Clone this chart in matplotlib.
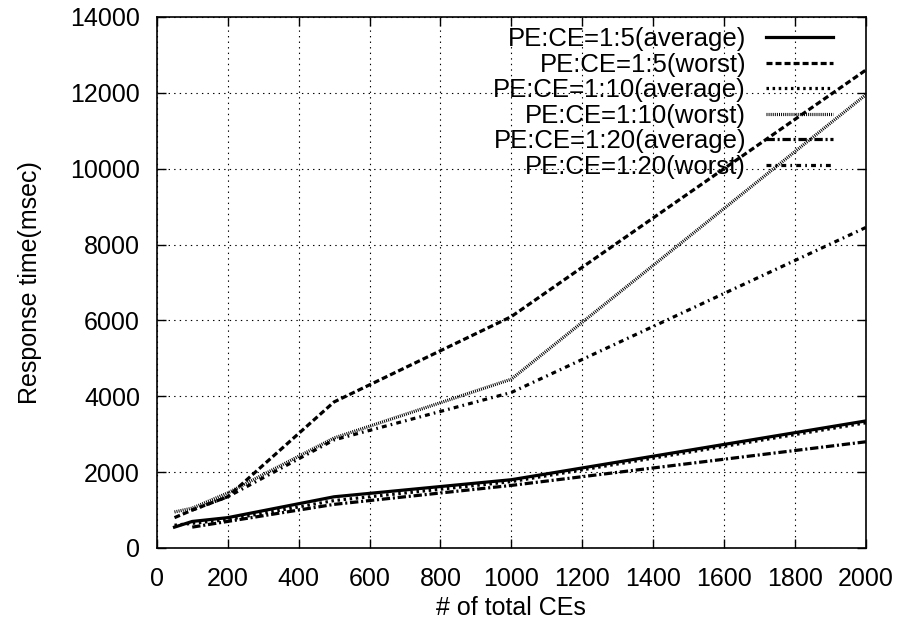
import numpy as np
import matplotlib as mpl
import matplotlib.pyplot as plt

mpl.rcParams['font.family'] = ['Liberation Sans', 'DejaVu Sans']
mpl.rcParams['lines.scale_dashes'] = False

# number of total CEs
x_all = [50, 100, 200, 500, 1000, 2000]
x_20 = [100, 200, 500, 1000, 2000]

# response times (msec)
avg_5 = [550, 700, 800, 1350, 1800, 3350]
worst_5 = [800, 1000, 1350, 3850, 6100, 12600]
avg_10 = [600, 650, 750, 1250, 1750, 3300]
worst_10 = [950, 1050, 1450, 2900, 4450, 11950]
avg_20 = [550, 700, 1150, 1650, 2800]
worst_20 = [1000, 1350, 2850, 4100, 8450]

labels = ['PE:CE=1:5(average)', 'PE:CE=1:5(worst)',
          'PE:CE=1:10(average)', 'PE:CE=1:10(worst)',
          'PE:CE=1:20(average)', 'PE:CE=1:20(worst)']

fig = plt.figure(figsize=(9.01, 6.27), dpi=100)
ax = fig.add_axes([0.174, 0.126, 0.787, 0.847])

lw = 2.3
ax.plot(x_all, avg_5, color='black', lw=lw, ls='-', label=labels[0])
ax.plot(x_all, worst_5, color='black', lw=lw, ls=(0, (4.3, 2.2)), label=labels[1])
ax.plot(x_all, avg_10, color='black', lw=lw, ls=(0, (1.8, 2.6)), label=labels[2])
ax.plot(x_all, worst_10, color='black', lw=lw, ls=(0, (0.7, 0.8)), label=labels[3])
ax.plot(x_20, avg_20, color='black', lw=lw, ls=(0, (6, 2, 1.5, 2)), label=labels[4])
ax.plot(x_20, worst_20, color='black', lw=lw, ls=(0, (3.5, 3, 1.2, 3)), label=labels[5])

ax.set_xlim(0, 2000)
ax.set_ylim(0, 14000)
ax.set_xticks(np.arange(0, 2001, 200))
ax.set_yticks(np.arange(0, 14001, 2000))
ax.tick_params(direction='in', length=6.5, width=1, top=True, right=True,
               labelsize=18, color='black')
ax.tick_params(axis='x', pad=14)
ax.tick_params(axis='y', pad=12)
ax.grid(True, color='black', ls=(0, (1, 3)), lw=0.8)
for s in ax.spines.values():
    s.set_linewidth(1.2)

ax.set_xlabel('# of total CEs', fontsize=18)
ax.set_ylabel('Response time(msec)', fontsize=18)
ax.xaxis.set_label_coords(0.5, -0.09)
ax.yaxis.set_label_coords(-0.162, 0.5)

leg = ax.legend(loc='upper right', bbox_to_anchor=(0.9535, 0.981),
                markerfirst=False, frameon=False, fontsize=18.5,
                handlelength=2.6, labelspacing=0.06, handletextpad=0.78,
                borderpad=0, borderaxespad=0)

fig.savefig('out.png', dpi=100)
